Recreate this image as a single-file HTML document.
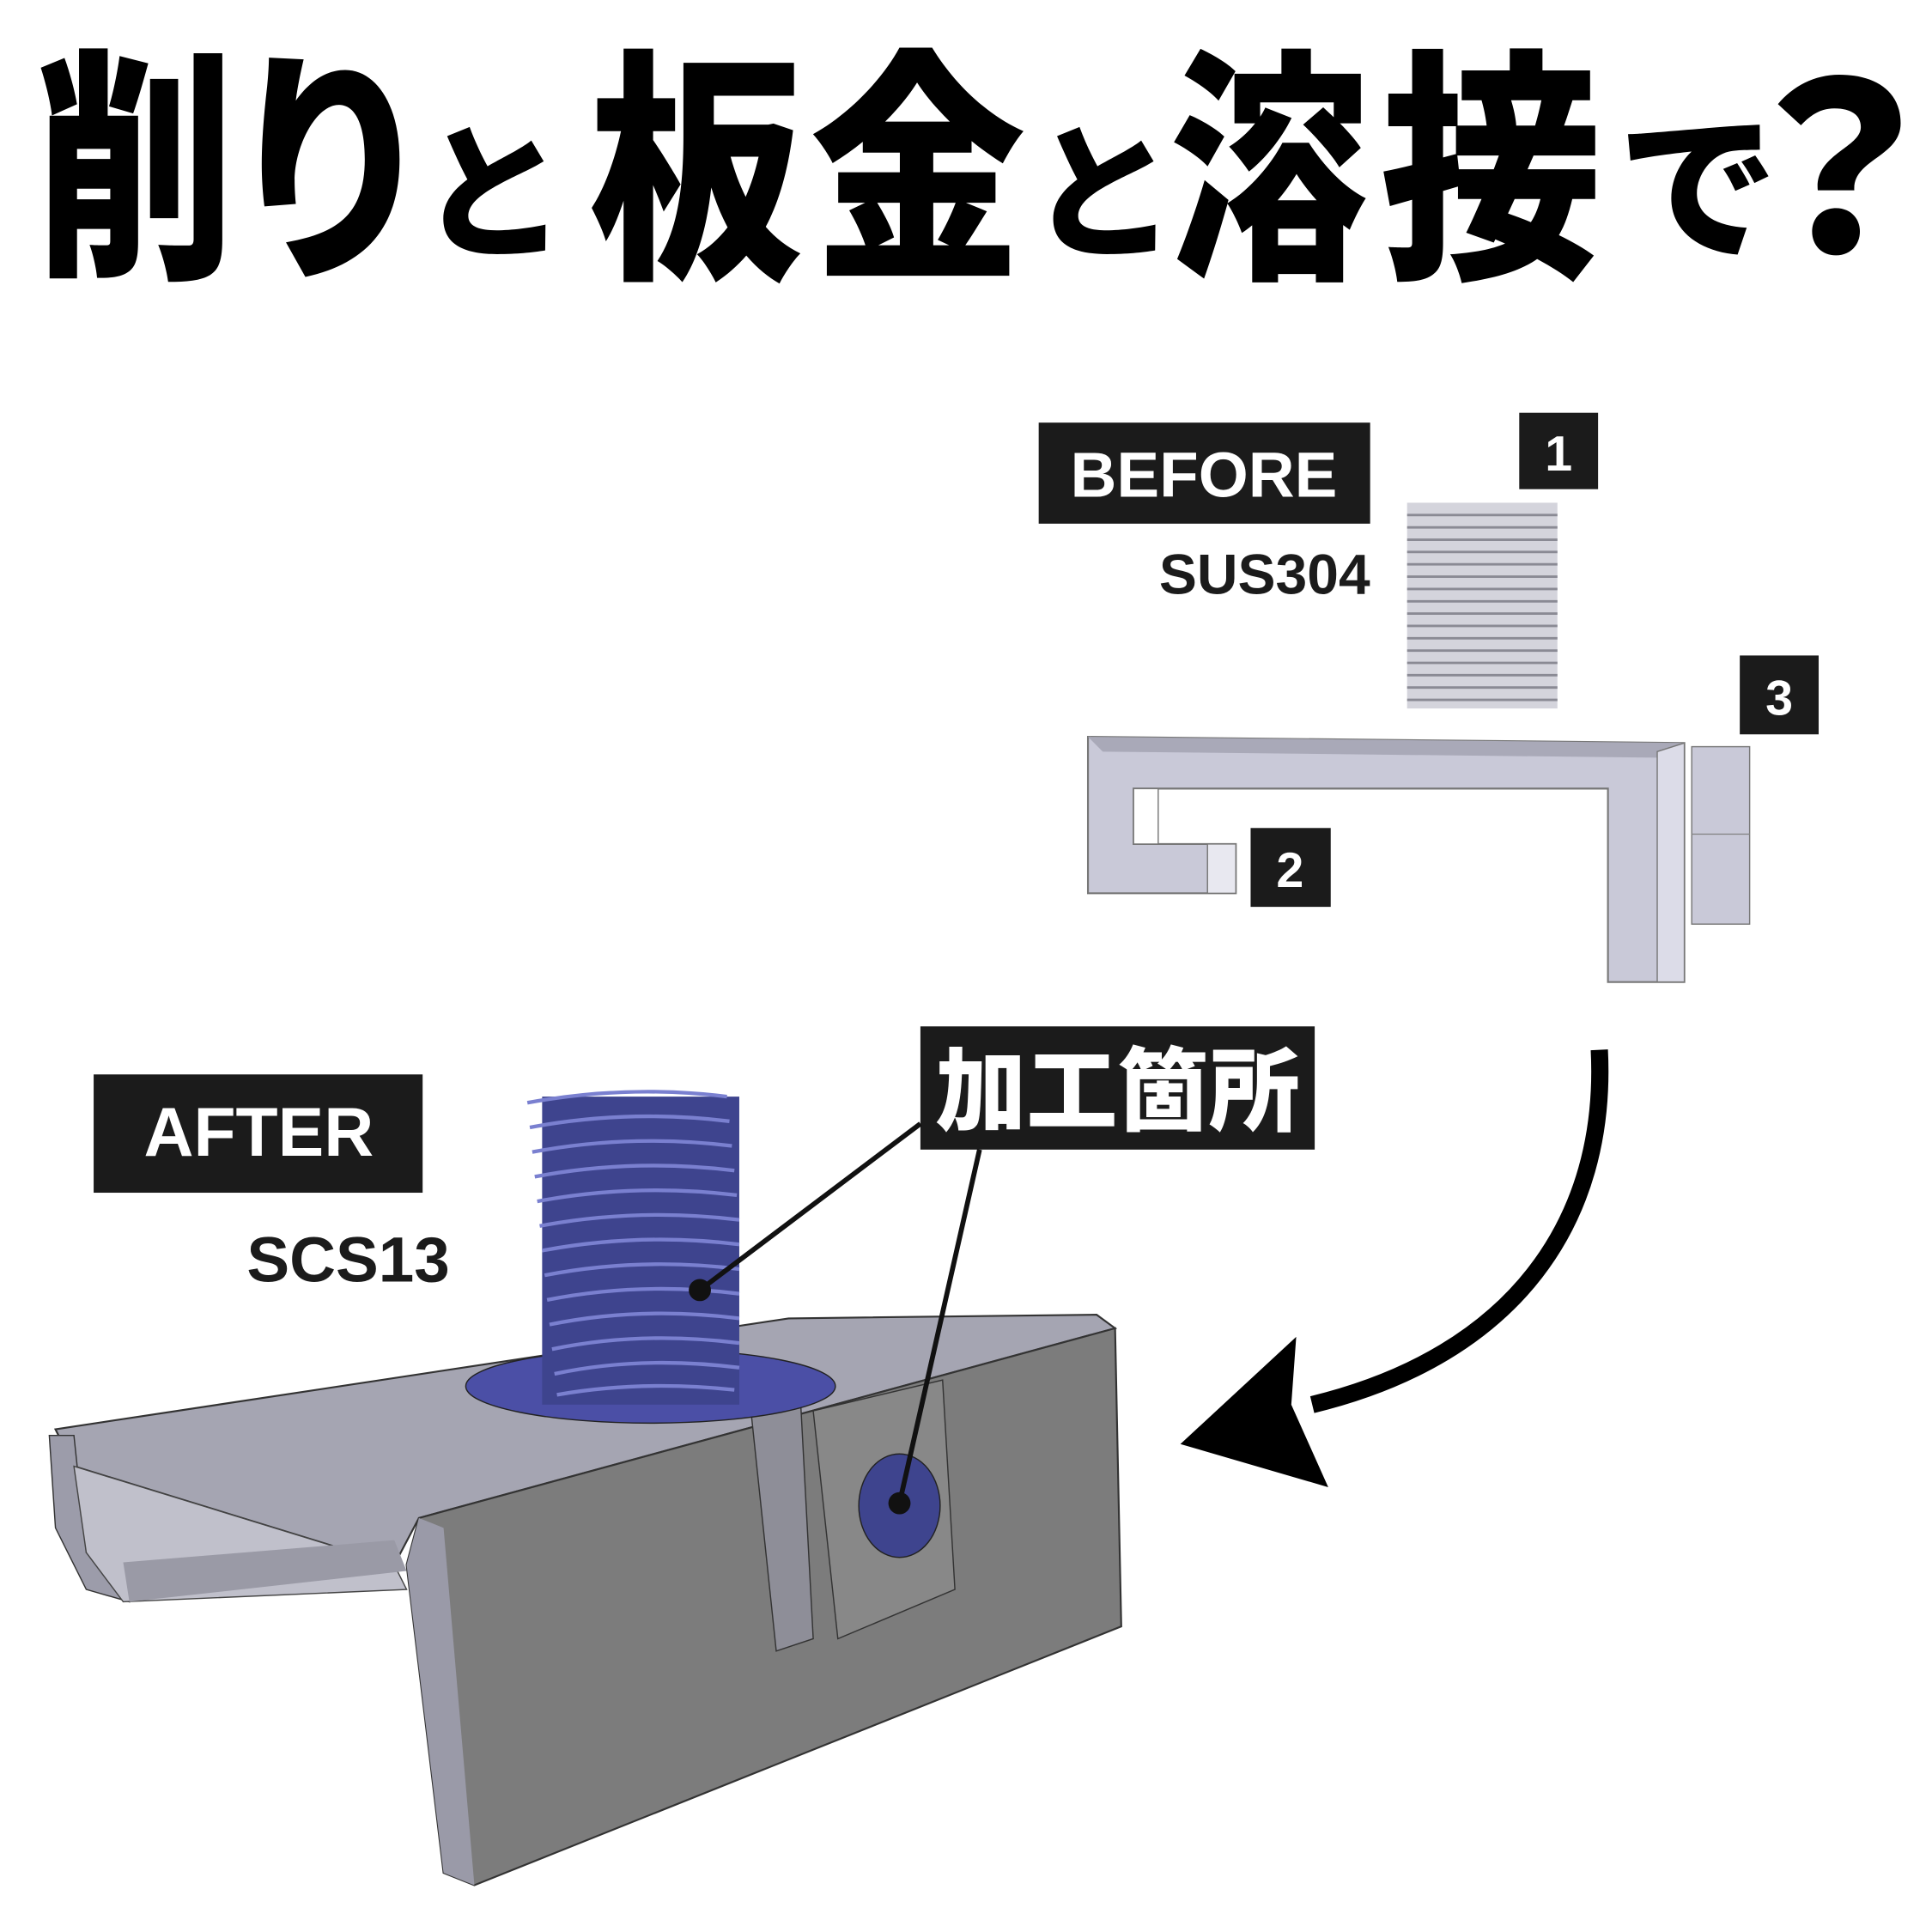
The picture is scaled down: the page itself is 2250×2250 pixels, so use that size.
<!DOCTYPE html>
<html><head><meta charset="utf-8"><style>
html,body{margin:0;padding:0;background:#fff;}
svg{display:block}
.t{font-family:"Noto Sans CJK JP","WenQuanYi Zen Hei",sans-serif;font-weight:900;fill:#000}
.l{font-family:"Liberation Sans","DejaVu Sans",sans-serif;font-weight:bold}
</style></head><body>
<svg width="2250" height="2250" viewBox="0 0 1568 1568" xmlns="http://www.w3.org/2000/svg">
<rect width="1568" height="1568" fill="#fff"/>
<!-- title -->
<g class="t" font-size="190">
<text x="110" y="200" text-anchor="middle" transform="translate(110 0) scale(0.85 1.05) translate(-110 0)">削</text>
<text x="268" y="200" text-anchor="middle" transform="translate(268 0) scale(0.9 1.05) translate(-268 0)">り</text>
<text x="400" y="200" text-anchor="middle" font-size="120">と</text>
<text x="565" y="200" text-anchor="middle" transform="translate(565 0) scale(0.92 1.05) translate(-565 0)">板</text>
<text x="745" y="200" text-anchor="middle" transform="translate(745 0) scale(0.92 1.05) translate(-745 0)">金</text>
<text x="895" y="200" text-anchor="middle" font-size="120">と</text>
<text x="1030" y="200" text-anchor="middle" transform="translate(1030 0) scale(0.85 1.05) translate(-1030 0)">溶</text>
<text x="1210" y="200" text-anchor="middle" transform="translate(1210 0) scale(0.95 1.05) translate(-1210 0)">接</text>
<text x="1378" y="200" text-anchor="middle" font-size="130">で</text>
<text x="1492" y="205" text-anchor="middle" font-size="190">？</text>
</g>
<!-- BEFORE -->
<rect x="843" y="343" width="269" height="82" fill="#1b1b1b"/>
<text class="l" x="977" y="403" font-size="52" fill="#fff" text-anchor="middle">BEFORE</text>
<text class="l" x="1112" y="482" font-size="46" fill="#1b1b1b" text-anchor="end">SUS304</text>
<rect x="1233" y="335" width="64" height="62" fill="#1b1b1b"/>
<text class="l" x="1265" y="382" font-size="40" fill="#fff" text-anchor="middle">1</text>
<rect x="1412" y="532" width="64" height="64" fill="#1b1b1b"/>
<text class="l" x="1444" y="580" font-size="40" fill="#fff" text-anchor="middle">3</text>
<rect x="1015" y="672" width="65" height="64" fill="#1b1b1b"/>
<text class="l" x="1047" y="720" font-size="40" fill="#fff" text-anchor="middle">2</text>
<!-- thread 1 -->
<rect x="1142" y="408" width="122" height="167" fill="#d4d4dc"/>
<g stroke="#8a8a94" stroke-width="2">
<path d="M1142 418H1264M1142 428H1264M1142 438H1264M1142 448H1264M1142 458H1264M1142 468H1264M1142 478H1264M1142 488H1264M1142 498H1264M1142 508H1264M1142 518H1264M1142 528H1264M1142 538H1264M1142 548H1264M1142 558H1264M1142 568H1264"/>
</g>
<!-- bracket before -->
<polygon points="883,598 1367,603 1367,797 1305,797 1305,640 920,640 920,685 1003,685 1003,725 883,725" fill="#c9c9d8" stroke="#777" stroke-width="1.5"/>
<polygon points="883,598 1367,603 1355,615 895,610" fill="#a9a9b8"/>
<polygon points="1345,610 1367,603 1367,797 1345,797" fill="#dcdce8" stroke="#777" stroke-width="1"/>
<polygon points="920,640 940,640 940,685 920,685" fill="#fff" stroke="#777"/>
<polygon points="980,685 1003,685 1003,725 980,725" fill="#e8e8f0" stroke="#777"/>
<rect x="1373" y="606" width="47" height="144" fill="#c9c9d8" stroke="#777"/>
<line x1="1373" y1="677" x2="1420" y2="677" stroke="#888"/>
<!-- arrow -->
<path d="M1298 852 C1305 990 1230 1100 1065 1140" fill="none" stroke="#000" stroke-width="14"/>
<polygon points="958,1172 1052,1085 1048,1140 1078,1207" fill="#000"/>
<!-- AFTER -->
<rect x="76" y="872" width="267" height="96" fill="#1b1b1b"/>
<text class="l" x="210" y="938" font-size="56" fill="#fff" text-anchor="middle">AFTER</text>
<text class="l" x="365" y="1040" font-size="52" fill="#1b1b1b" text-anchor="end">SCS13</text>
<!-- bracket after -->
<polygon points="45,1160 640,1070 890,1067 905,1078 340,1232 320,1270 60,1190" fill="#a5a5b2" stroke="#333" stroke-width="1.5"/>
<polygon points="40,1165 60,1165 70,1260 100,1275 105,1300 70,1290 45,1240" fill="#9c9caa" stroke="#333"/>
<polygon points="60,1190 320,1270 330,1290 100,1300 70,1260" fill="#c0c0cb" stroke="#444"/>
<polygon points="100,1268 320,1250 330,1275 105,1300" fill="#9a9aa6"/>
<polygon points="340,1232 905,1078 910,1320 385,1530 360,1520 330,1270" fill="#7c7c7c" stroke="#333" stroke-width="1.5"/>
<polygon points="330,1270 340,1232 360,1240 385,1530 360,1520" fill="#9a9aa8"/>
<polygon points="610,1150 650,1142 660,1330 630,1340" fill="#8e8e98" stroke="#333"/>
<polygon points="660,1145 765,1120 775,1290 680,1330" fill="#888" stroke="#333"/>
<ellipse cx="528" cy="1125" rx="150" ry="30" fill="#4b4fa6" stroke="#222"/>
<rect x="440" y="890" width="160" height="250" fill="#3e448e"/>
<g stroke="#7a80d0" stroke-width="3" fill="none">
<path d="M428 895Q510 880 590 890M430 915Q510 900 592 910M432 935Q512 920 594 930M434 955Q514 940 596 950M436 975Q516 960 598 970M438 995Q518 980 600 990M440 1015Q520 1000 600 1010M442 1035Q520 1020 600 1030M444 1055Q520 1040 600 1050M446 1075Q520 1060 600 1070M448 1095Q520 1080 600 1090M450 1115Q520 1100 600 1110M452 1132Q520 1120 596 1128"/>
</g>
<ellipse cx="730" cy="1222" rx="33" ry="42" fill="#3e448e" stroke="#222"/>
<!-- callout -->
<rect x="747" y="833" width="320" height="100" fill="#1b1b1b"/>
<text class="t" x="907" y="912" font-size="74" fill="#fff" text-anchor="middle" style="fill:#fff">加工箇所</text>
<line x1="747" y1="912" x2="568" y2="1047" stroke="#111" stroke-width="4"/>
<line x1="795" y1="933" x2="730" y2="1220" stroke="#111" stroke-width="4"/>
<circle cx="568" cy="1047" r="9" fill="#111"/>
<circle cx="730" cy="1220" r="9" fill="#111"/>
</svg>
</body></html>
